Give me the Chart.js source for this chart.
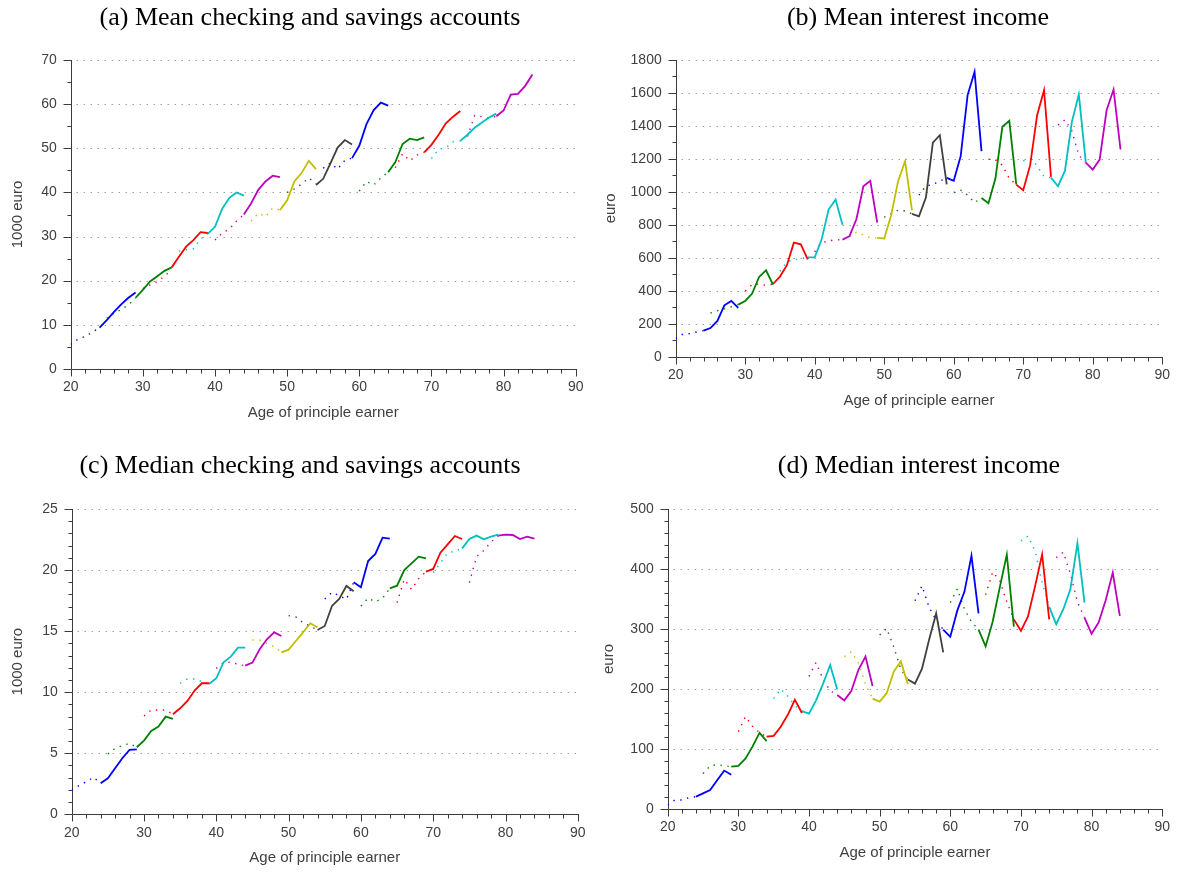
<!DOCTYPE html>
<html>
<head>
<meta charset="utf-8">
<script src="https://cdn.jsdelivr.net/npm/chart.js@4.4.1/dist/chart.umd.min.js"></script>
<style>
  body { margin: 0; background: #fff; }
  #wrap { position: relative; width: 1180px; height: 872px; }
  canvas { position: absolute; }
</style>
</head>
<body>
<div id="wrap">
  <canvas id="pa" width="600" height="436" style="left:0;top:0;width:600px;height:436px"></canvas>
  <canvas id="pb" width="580" height="436" style="left:600px;top:0;width:580px;height:436px"></canvas>
  <canvas id="pc" width="600" height="436" style="left:0;top:436px;width:600px;height:436px"></canvas>
  <canvas id="pd" width="580" height="436" style="left:600px;top:436px;width:580px;height:436px"></canvas>
</div>
<script>
// first age of each cohort's solid segment; the dotted one covers the 4 years before it
const startAges = [24, 29, 34, 39, 44, 49, 54, 59, 64, 69, 74, 79];
const cohortColors = ['#0000ff', '#008000', '#ff0000', '#00bfbf', '#bf00bf', '#bfbf00', '#404040'];

// (a) mean checking and savings accounts, 1000 euro
const meanAccSolid = [
  [9.3, 11.0, 12.9, 14.6, 16.1, 17.3],
  [16.1, 17.9, 19.8, 21.0, 22.2, 23.0],
  [23.0, 25.4, 27.7, 29.2, 31.0, 30.8],
  [30.6, 32.2, 36.3, 38.8, 40.0, 39.3],
  [35.0, 37.5, 40.6, 42.5, 43.8, 43.5],
  [36.0, 38.2, 42.5, 44.4, 47.2, 45.3],
  [41.7, 43.1, 46.6, 50.2, 51.9, 50.9],
  [47.8, 50.6, 55.5, 58.7, 60.4, 59.7],
  [44.6, 46.9, 51.0, 52.2, 51.9, 52.5],
  [49.1, 50.8, 53.1, 55.7, 57.2, 58.5],
  [51.7, 53.1, 54.7, 55.9, 57.0, 57.9],
  [57.3, 58.6, 62.2, 62.4, 64.2, 66.8]
];
const meanAccDotted = [
  [5.5, 6.7, 7.3, 8.3, 9.3],
  [11.4, 12.6, 13.4, 14.5, 16.1],
  [18.2, 19.0, 19.8, 21.0, 22.5],
  [26.7, 27.0, 27.2, 29.5, 30.5],
  [29.2, 30.8, 31.7, 33.5, 35.0],
  [33.5, 35.3, 34.5, 36.5, 36.0],
  [40.0, 40.8, 41.9, 43.3, 42.0],
  [45.5, 46.7, 45.3, 47.3, 47.8],
  [40.3, 42.5, 41.7, 43.3, 44.6],
  [45.6, 48.8, 47.2, 48.5, 49.1],
  [47.7, 49.8, 50.1, 51.5, 51.7],
  [52.7, 57.5, 57.2, 56.9, 57.3]
];

// (b) mean interest income, euro
const meanIntSolid = [
  [158, 174, 217, 312, 338, 296],
  [316, 338, 383, 484, 524, 437],
  [441, 486, 555, 692, 682, 591],
  [603, 603, 712, 893, 953, 801],
  [710, 731, 834, 1034, 1067, 814],
  [721, 717, 858, 1065, 1186, 887],
  [867, 852, 965, 1299, 1344, 1046],
  [1085, 1067, 1216, 1587, 1728, 1247],
  [963, 931, 1081, 1395, 1431, 1046],
  [1044, 1010, 1162, 1465, 1617, 1091],
  [1087, 1034, 1127, 1425, 1591, 1182],
  [1178, 1135, 1196, 1496, 1621, 1257]
];
const meanIntDotted = [
  [110, 136, 140, 150, 158],
  [265, 279, 290, 303, 316],
  [399, 437, 441, 433, 441],
  [518, 575, 589, 595, 603],
  [636, 690, 704, 708, 710],
  [727, 755, 738, 721, 721],
  [846, 868, 889, 884, 867],
  [980, 1035, 1045, 1065, 1085],
  [996, 1010, 980, 935, 963],
  [1198, 1194, 1162, 1081, 1044],
  [1188, 1200, 1160, 1091, 1087],
  [1405, 1437, 1370, 1222, 1178]
];

// (c) median checking and savings accounts, 1000 euro
const medAccSolid = [
  [2.54, 2.95, 3.77, 4.59, 5.27, 5.32],
  [5.49, 6.03, 6.82, 7.18, 8.0, 7.81],
  [8.19, 8.68, 9.28, 10.13, 10.73, 10.73],
  [10.67, 11.14, 12.45, 12.91, 13.65, 13.65],
  [12.17, 12.42, 13.51, 14.33, 14.9, 14.6],
  [13.26, 13.48, 14.19, 14.9, 15.64, 15.31],
  [15.09, 15.42, 17.06, 17.63, 18.7, 18.26],
  [19.0, 18.59, 20.74, 21.32, 22.65, 22.57],
  [18.5, 18.72, 20.0, 20.55, 21.1, 20.96],
  [19.87, 20.09, 21.42, 22.11, 22.79, 22.54],
  [21.78, 22.54, 22.82, 22.52, 22.73, 22.9],
  [22.82, 22.9, 22.87, 22.54, 22.73, 22.57]
];
const medAccDotted = [
  [2.0, 2.35, 2.65, 3.03, 2.54],
  [4.94, 5.4, 5.62, 5.81, 5.49],
  [8.05, 8.54, 8.54, 8.54, 8.19],
  [10.73, 11.08, 11.08, 10.86, 10.67],
  [11.95, 12.42, 12.45, 12.28, 12.17],
  [14.27, 14.27, 14.0, 13.73, 13.26],
  [16.27, 16.16, 15.69, 15.4, 15.09],
  [17.63, 18.17, 17.9, 17.6, 19.0],
  [17.06, 17.7, 17.4, 17.7, 18.5],
  [17.33, 19.24, 18.42, 19.3, 19.87],
  [19.79, 20.6, 21.4, 21.55, 21.78],
  [18.97, 21.1, 21.6, 22.3, 22.82]
];

// (d) median interest income, euro
const medIntSolid = [
  [20.6, 26, 31.7, 48, 64, 57],
  [70.6, 72, 84, 104, 127, 113],
  [120.6, 122, 137, 157, 182, 160],
  [163, 159, 181, 209, 240, 199],
  [190, 181, 197, 232, 254, 205],
  [184, 179, 193, 229, 246, 208],
  [216, 209, 234, 282, 326, 261],
  [299, 287, 331, 362, 422, 326],
  [299, 271, 312, 369, 424, 304],
  [316, 297, 321, 371, 424, 316],
  [337, 308, 333, 366, 443, 344],
  [319, 292, 311, 348, 394, 322]
];
const medIntDotted = [
  [7, 15, 15, 19, 20.6],
  [59, 72, 74, 72, 70.6],
  [129, 154, 138, 127, 120.6],
  [184, 200, 188, 172, 163],
  [221, 244, 216, 197, 190],
  [254, 262, 243, 208, 184],
  [290, 301, 270, 233, 216],
  [347, 372, 336, 315, 299],
  [344, 367, 333, 312, 299],
  [357, 395, 381, 345, 316],
  [447, 455, 430, 378, 337],
  [419, 428, 392, 345, 319]
];

Chart.defaults.font.family = '"Liberation Sans", Arial, sans-serif';

// matlab-ish axes: dotted grid, outward ticks (major long, minor short), panel caption
const axisDeco = {
  id: 'axisDeco',
  beforeDatasetsDraw(chart, args, opts) {
    const { ctx, chartArea: a, scales: { x, y } } = chart;
    ctx.save();
    ctx.lineWidth = 1;
    ctx.strokeStyle = '#707070';
    ctx.setLineDash([1, 6]);
    for (let i = 1; i * opts.yMajor <= y.max + 1e-9; i++) {
      const py = Math.round(y.getPixelForValue(i * opts.yMajor)) + 0.5;
      ctx.beginPath();
      ctx.moveTo(a.left + 6, py);
      ctx.lineTo(a.right, py);
      ctx.stroke();
    }
    ctx.setLineDash([]);
    ctx.strokeStyle = '#3c3c3c';
    const left = Math.round(a.left) + 0.5, bottom = Math.round(a.bottom) + 0.5;
    ctx.beginPath();
    ctx.moveTo(left, Math.round(a.top));
    ctx.lineTo(left, bottom);
    ctx.lineTo(Math.round(a.right) + 1, bottom);
    for (let i = 0; i * opts.yMinor <= y.max + 1e-9; i++) {
      const v = i * opts.yMinor;
      const py = Math.round(y.getPixelForValue(v)) + 0.5;
      const len = (Math.abs(v / opts.yMajor - Math.round(v / opts.yMajor)) < 1e-6) ? 8 : 4;
      ctx.moveTo(left - len, py);
      ctx.lineTo(left, py);
    }
    for (let v = x.min; v <= x.max; v += 2) {
      const px = Math.round(x.getPixelForValue(v)) + 0.5;
      const len = (v % 10 === 0) ? 7 : 4;
      ctx.moveTo(px, bottom);
      ctx.lineTo(px, bottom + len);
    }
    ctx.stroke();
    ctx.restore();
  },
  afterDraw(chart, args, opts) {
    const ctx = chart.ctx;
    ctx.save();
    ctx.font = '26px "Liberation Serif", "Times New Roman", serif';
    ctx.fillStyle = '#000';
    ctx.textAlign = 'center';
    ctx.textBaseline = 'middle';
    ctx.fillText(opts.title, opts.tx, opts.ty);
    ctx.restore();
  }
};

function buildDatasets(solid, dotted) {
  const sets = [];
  startAges.forEach((s, k) => {
    const color = cohortColors[k % cohortColors.length];
    sets.push({
      data: dotted[k].map((v, i) => ({ x: s - 4 + i, y: v })),
      borderColor: color,
      borderWidth: 1.4,
      borderDash: [1.4, 5.6],
      pointRadius: 0,
      tension: 0,
      order: 1
    });
    sets.push({
      data: solid[k].map((v, i) => ({ x: s + i, y: v })),
      borderColor: color,
      borderWidth: 1.8,
      pointRadius: 0,
      tension: 0,
      order: 0
    });
  });
  return sets;
}

function makePanel(id, p) {
  return new Chart(document.getElementById(id), {
    type: 'line',
    data: { datasets: buildDatasets(p.solid, p.dotted) },
    options: {
      responsive: false,
      animation: false,
      layout: { padding: { left: 0, top: p.top, right: p.right, bottom: 0 } },
      plugins: {
        legend: { display: false },
        tooltip: { enabled: false },
        axisDeco: { title: p.title, tx: p.tx, ty: p.ty, yMajor: p.yMajor, yMinor: p.yMinor }
      },
      scales: {
        x: {
          type: 'linear',
          min: 20,
          max: 90,
          grid: { display: false, drawTicks: false },
          border: { display: false },
          ticks: { stepSize: 10, padding: 10, color: '#404040', font: { size: 14 } },
          title: {
            display: true,
            text: 'Age of principle earner',
            color: '#404040',
            font: { size: 15 },
            padding: { top: 0, bottom: p.xTitlePad }
          },
          afterFit(sc) { sc.height = p.xH; }
        },
        y: {
          min: 0,
          max: p.yMax,
          grid: { display: false, drawTicks: false },
          border: { display: false },
          ticks: {
            stepSize: p.yMajor,
            padding: 14,
            color: '#404040',
            font: { size: 14 },
            callback: (v) => String(v)
          },
          title: {
            display: true,
            text: p.yTitle,
            color: '#404040',
            font: { size: 15 },
            padding: { top: p.yTitlePad, bottom: 0 }
          },
          afterFit(sc) { sc.width = p.yW; }
        }
      }
    },
    plugins: [axisDeco]
  });
}

makePanel('pa', {
  solid: meanAccSolid, dotted: meanAccDotted,
  title: '(a) Mean checking and savings accounts', tx: 310, ty: 18,
  yMax: 70, yMajor: 10, yMinor: 5, yTitle: '1000 euro',
  top: 60.3, right: 24.3, yW: 70.7, xH: 67.3, xTitlePad: 14, yTitlePad: 9
});
makePanel('pb', {
  solid: meanIntSolid, dotted: meanIntDotted,
  title: '(b) Mean interest income', tx: 318, ty: 18,
  yMax: 1800, yMajor: 200, yMinor: 100, yTitle: 'euro',
  top: 60, right: 14.3, yW: 75.7, xH: 79.3, xTitlePad: 26, yTitlePad: 2
});
makePanel('pc', {
  solid: medAccSolid, dotted: medAccDotted,
  title: '(c) Median checking and savings accounts', tx: 300, ty: 30,
  yMax: 25, yMajor: 5, yMinor: 1, yTitle: '1000 euro',
  top: 73, right: 22.2, yW: 71.7, xH: 57.7, xTitlePad: 4.7, yTitlePad: 9
});
makePanel('pd', {
  solid: medIntSolid, dotted: medIntDotted,
  title: '(d) Median interest income', tx: 319, ty: 30,
  yMax: 500, yMajor: 100, yMinor: 20, yTitle: 'euro',
  top: 73, right: 15.3, yW: 67.7, xH: 63, xTitlePad: 10, yTitlePad: 0
});
</script>
</body>
</html>
